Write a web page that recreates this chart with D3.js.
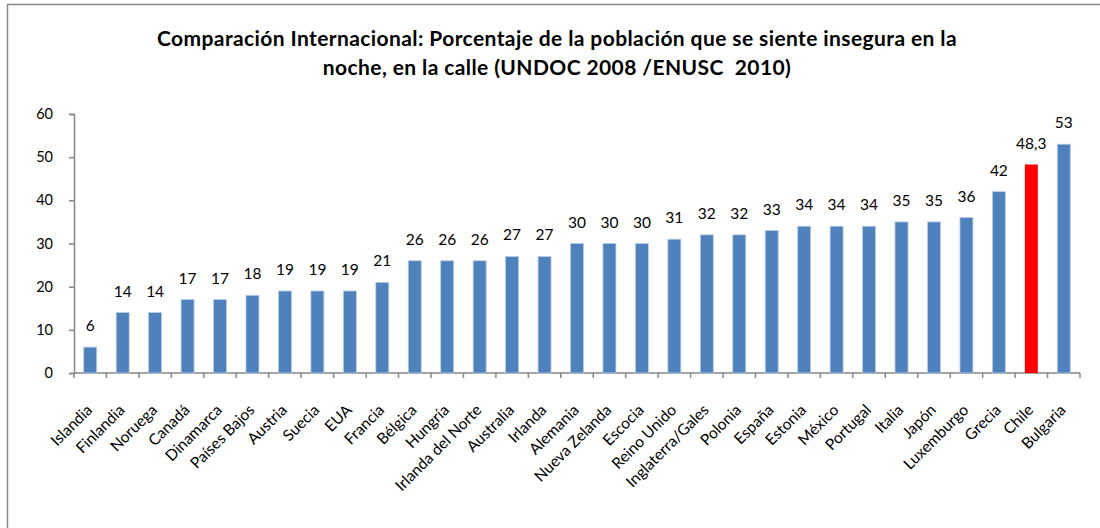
<!DOCTYPE html>
<html>
<head>
<meta charset="utf-8">
<script src="https://cdn.jsdelivr.net/npm/d3@7"></script>
<style>
  body { margin: 0; background: #fff; }
  svg { font-family: Lato, "Open Sans", sans-serif; }
</style>
</head>
<body>
<svg id="chart"></svg>
<script>
// data
let countries = ["Islandia", "Finlandia", "Noruega", "Canadá", "Dinamarca", "Países Bajos",
    "Austria", "Suecia", "EUA", "Francia", "Bélgica", "Hungría", "Irlanda del Norte",
    "Australia", "Irlanda", "Alemania", "Nueva Zelanda", "Escocia", "Reino Unido",
    "Inglaterra/Gales", "Polonia", "España", "Estonia", "México", "Portugal", "Italia",
    "Japón", "Luxemburgo", "Grecia", "Chile", "Bulgaria"];
let values = [6, 14, 14, 17, 17, 18, 19, 19, 19, 21, 26, 26, 26, 27, 27, 30, 30, 30, 31,
    32, 32, 33, 34, 34, 34, 35, 35, 36, 42, 48.3, 53];
let valueLabels = ["6", "14", "14", "17", "17", "18", "19", "19", "19", "21", "26", "26",
    "26", "27", "27", "30", "30", "30", "31", "32", "32", "33", "34", "34", "34", "35",
    "35", "36", "42", "48,3", "53"];
let yTicks = [0, 10, 20, 30, 40, 50, 60];
let highlight = "Chile";
let titleLines = ["Comparación Internacional: Porcentaje de la población que se siente insegura en la",
    "noche, en la calle (UNDOC 2008 /ENUSC  2010)"];

function drawChart(){
    let config = chartConfig();
    let scales = chartScales(config);
    drawFrame(config);
    drawAxes(scales, config);
    drawBars(scales, config);
}

function chartConfig(){
    let width = 1100;
    let height = 528;
    let margin = {top: 114, bottom: 155, left: 74, right: 20};
    let bodyWidth = width - margin.left - margin.right;
    let bodyHeight = height - margin.top - margin.bottom;
    let container = d3.select("#chart")
        .attr("width", width)
        .attr("height", height);
    return {width, height, margin, bodyWidth, bodyHeight, container};
}

function chartScales(config){
    let {bodyWidth, bodyHeight} = config;
    // bars centred in equal slots, ticks on slot edges
    let xScale = d3.scaleBand()
        .range([0, bodyWidth])
        .domain(countries)
        .paddingInner(0.6)
        .paddingOuter(0.3);
    let yScale = d3.scaleLinear()
        .range([bodyHeight, 0])
        .domain([0, 60]);
    return {xScale, yScale};
}

function drawFrame(config){
    let {container, width} = config;
    container.append("rect")
        .attr("x", 7.5).attr("y", 4.5)
        .attr("width", width + 20).attr("height", 600)
        .attr("fill", "none")
        .attr("stroke", "#888")
        .attr("stroke-width", 1.5);
    container.append("g")
        .selectAll("text")
        .data(titleLines)
        .enter().append("text")
        .attr("x", 557)
        .attr("y", (d, i) => 46 + i * 29)
        .attr("text-anchor", "middle")
        .attr("font-size", "21px")
        .attr("letter-spacing", "0.4px")
        .attr("font-weight", "bold")
        .attr("fill", "#000")
        .style("white-space", "pre")
        .text((d) => d);
}

function drawAxes(scales, config){
    let {margin, container, bodyHeight, bodyWidth} = config;
    let {xScale, yScale} = scales;

    let yAxis = d3.axisLeft(yScale)
        .tickValues(yTicks)
        .tickSize(5)
        .tickPadding(16);
    let yg = container.append("g")
        .attr("transform", `translate(${margin.left},${margin.top})`)
        .call(yAxis);
    yg.selectAll("path, line").attr("stroke", "#868686").attr("stroke-width", 1.5);
    yg.selectAll("text").attr("font-size", "14.5px").attr("fill", "#000")
        .attr("font-family", "Lato, sans-serif");

    let edges = d3.range(countries.length + 1).map((i) => i * bodyWidth / countries.length);

    let xg = container.append("g")
        .attr("transform", `translate(${margin.left},${margin.top + bodyHeight})`);
    xg.append("line")
        .attr("x1", 0).attr("x2", bodyWidth)
        .attr("stroke", "#868686").attr("stroke-width", 1.5);
    xg.selectAll(".tick")
        .data(edges)
        .enter().append("line")
        .attr("x1", (d) => d).attr("x2", (d) => d)
        .attr("y1", 0).attr("y2", 5)
        .attr("stroke", "#868686").attr("stroke-width", 1.5);

    xg.selectAll(".label")
        .data(countries)
        .enter().append("text")
        .attr("text-anchor", "end")
        .attr("font-size", "15.5px")
        .attr("fill", "#000")
        .attr("transform", (d) => {
            let cx = xScale(d) + xScale.bandwidth() / 2 + 3;
            return `translate(${cx},38) rotate(-45)`;
        })
        .text((d) => d);
}

function drawBars(scales, config){
    let {margin, container, bodyHeight} = config;
    let {xScale, yScale} = scales;
    let body = container.append("g")
        .attr("transform", `translate(${margin.left},${margin.top})`);
    let rows = countries.map((c, i) => ({country: c, value: values[i], label: valueLabels[i]}));

    body.selectAll(".bar")
        .data(rows)
        .enter().append("rect")
        .attr("x", (d) => xScale(d.country))
        .attr("y", (d) => yScale(d.value))
        .attr("width", xScale.bandwidth())
        .attr("height", (d) => bodyHeight - yScale(d.value))
        .attr("fill", (d) => d.country === highlight ? "#ff0000" : "#4f81bd")
        .attr("stroke", (d) => d.country === highlight ? "none" : "#b9cde5")
        .attr("stroke-width", 0.8);

    body.selectAll(".val")
        .data(rows)
        .enter().append("text")
        .attr("x", (d) => xScale(d.country) + xScale.bandwidth() / 2)
        .attr("y", (d) => yScale(d.value) - 16)
        .attr("text-anchor", "middle")
        .attr("font-size", "15.5px")
        .attr("fill", "#000")
        .text((d) => d.label);
}

drawChart();
</script>
</body>
</html>
